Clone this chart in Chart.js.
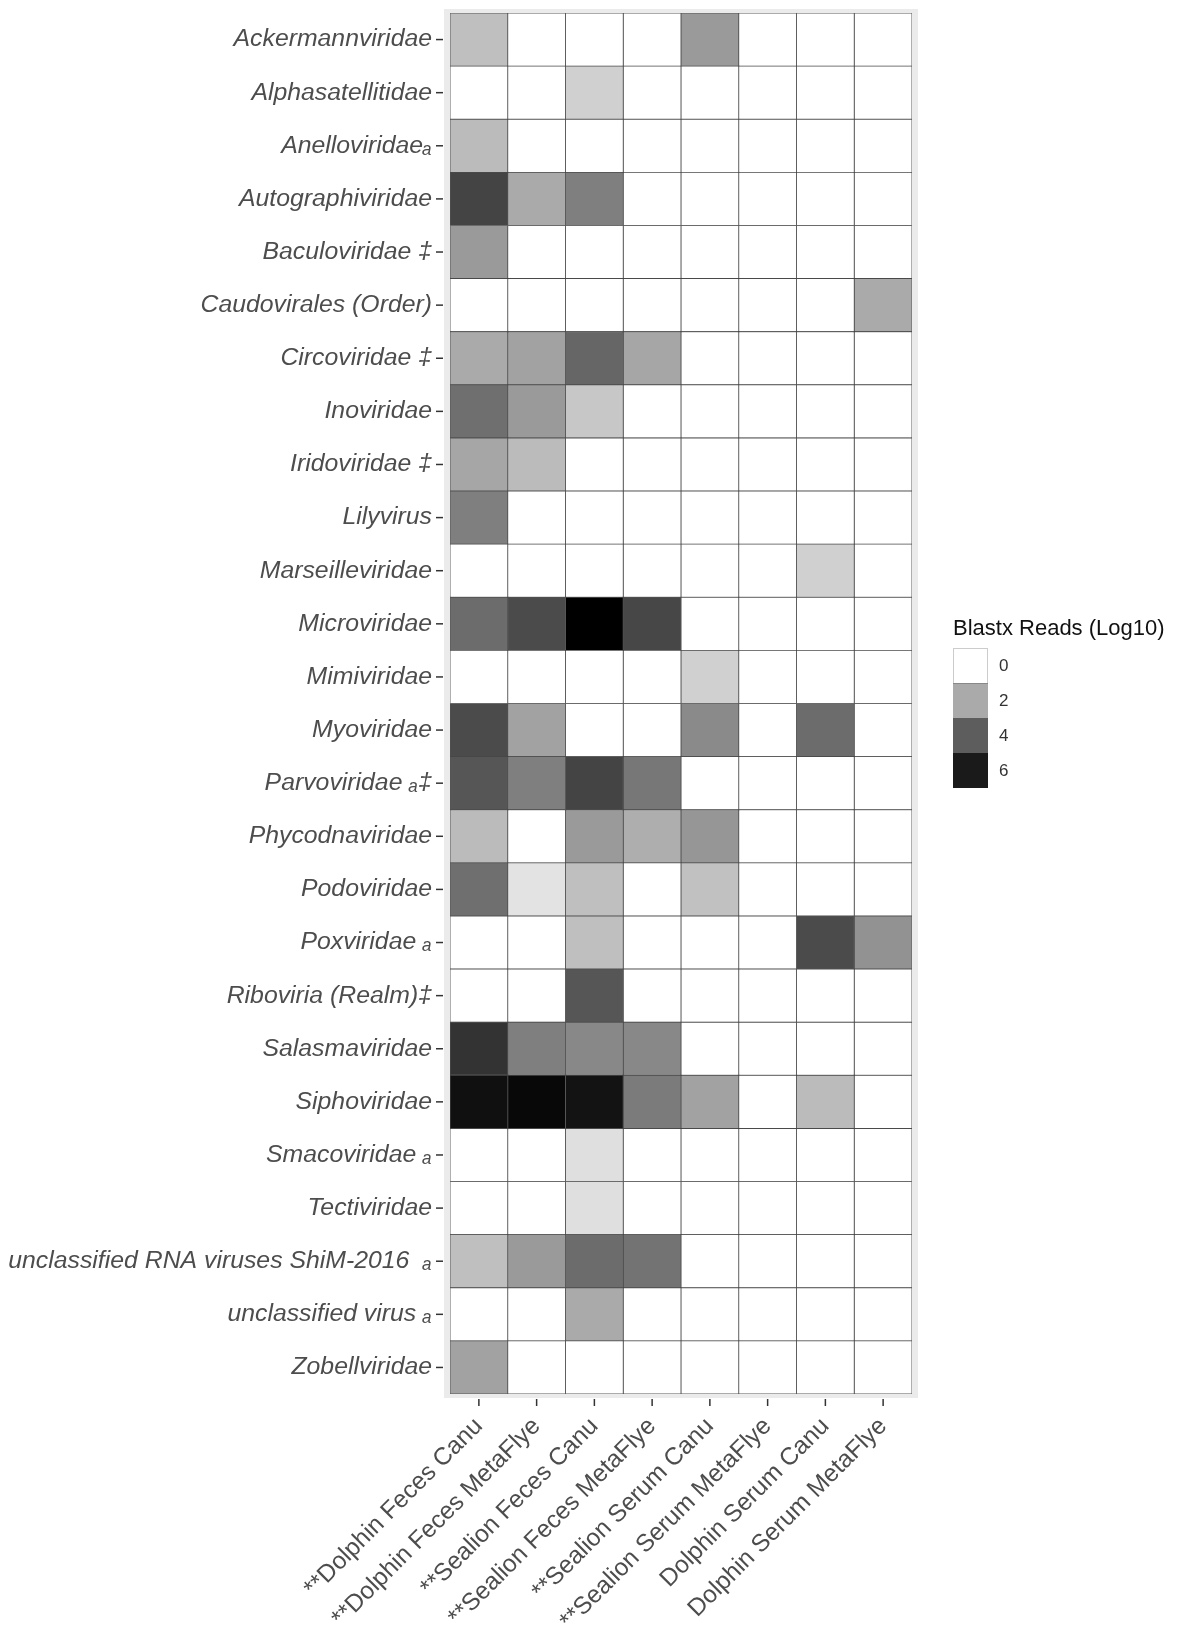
<!DOCTYPE html>
<html>
<head>
<meta charset="utf-8">
<script src="https://cdn.jsdelivr.net/npm/chart.js@4.4.1/dist/chart.umd.min.js"></script>
<style>
  body { margin: 0; background: #fff; }
  canvas { display: block; }
</style>
</head>
<body>
<canvas id="miHeatmap" width="1181" height="1628"></canvas>
<script>
// row labels (virus families), top to bottom
const families = [
    'Ackermannviridae', 'Alphasatellitidae', 'Anelloviridae\u2090', 'Autographiviridae',
    'Baculoviridae \u2021', 'Caudovirales (Order)', 'Circoviridae \u2021', 'Inoviridae',
    'Iridoviridae \u2021', 'Lilyvirus', 'Marseilleviridae', 'Microviridae',
    'Mimiviridae', 'Myoviridae', 'Parvoviridae \u2090\u2021', 'Phycodnaviridae',
    'Podoviridae', 'Poxviridae \u2090', 'Riboviria (Realm)\u2021', 'Salasmaviridae',
    'Siphoviridae', 'Smacoviridae \u2090', 'Tectiviridae', 'unclassified RNA viruses ShiM-2016  \u2090',
    'unclassified virus \u2090', 'Zobellviridae'
];

// column labels (samples / assemblers)
const samples = [
    '**Dolphin Feces Canu', '**Dolphin Feces MetaFlye', '**Sealion Feces Canu', '**Sealion Feces MetaFlye',
    '**Sealion Serum Canu', '**Sealion Serum MetaFlye', 'Dolphin Serum Canu', 'Dolphin Serum MetaFlye'
];

// Blastx reads (log10), one array per sample, same order as families
const dolphinFecesCanu     = [1.5, 0, 1.6, 4.7, 2.4, 0, 2.0, 3.5, 2.1, 3.1, 0, 3.6, 0, 4.5, 4.2, 1.6, 3.5, 0, 0, 5.2, 6.3, 0, 0, 1.5, 0, 2.2];
const dolphinFecesMetaFlye = [0, 0, 0, 2.0, 0, 0, 2.2, 2.4, 1.6, 0, 0, 4.5, 0, 2.2, 3.1, 0, 0.65, 0, 0, 3.1, 6.45, 0, 0, 2.4, 0, 0];
const sealionFecesCanu     = [0, 1.1, 0, 3.1, 0, 0, 3.75, 1.3, 0, 0, 0, 6.6, 0, 0, 4.7, 2.4, 1.5, 1.5, 4.2, 2.85, 6.2, 0.73, 0.73, 3.6, 2.0, 0];
const sealionFecesMetaFlye = [0, 0, 0, 0, 0, 0, 2.1, 0, 0, 0, 0, 4.6, 0, 0, 3.3, 1.9, 0, 0, 0, 2.85, 3.2, 0, 0, 3.4, 0, 0];
const sealionSerumCanu     = [2.4, 0, 0, 0, 0, 0, 0, 0, 0, 0, 0, 0, 1.1, 2.8, 0, 2.5, 1.45, 0, 0, 0, 2.2, 0, 0, 0, 0, 0];
const sealionSerumMetaFlye = [0, 0, 0, 0, 0, 0, 0, 0, 0, 0, 0, 0, 0, 0, 0, 0, 0, 0, 0, 0, 0, 0, 0, 0, 0, 0];
const dolphinSerumCanu     = [0, 0, 0, 0, 0, 0, 0, 0, 0, 0, 1.1, 0, 0, 3.6, 0, 0, 0, 4.5, 0, 0, 1.6, 0, 0, 0, 0, 0];
const dolphinSerumMetaFlye = [0, 0, 0, 0, 0, 2.0, 0, 0, 0, 0, 0, 0, 0, 0, 0, 0, 0, 2.6, 0, 0, 0, 0, 0, 0, 0, 0];

const legendBreaks = [0, 2, 4, 6];
const scaleMax = 6.6;

const series = [dolphinFecesCanu, dolphinFecesMetaFlye, sealionFecesCanu, sealionFecesMetaFlye,
                sealionSerumCanu, sealionSerumMetaFlye, dolphinSerumCanu, dolphinSerumMetaFlye];

// white -> black, interpolated on Lab lightness like ggplot
function grayFor(v) {
    let L = 100 * (1 - Math.min(v, scaleMax) / scaleMax);
    let Y = L > 8 ? Math.pow((L + 16) / 116, 3) : L / 903.3;
    let s = Y <= 0.0031308 ? 12.92 * Y : 1.055 * Math.pow(Y, 1 / 2.4) - 0.055;
    let g = Math.round(Math.max(0, Math.min(1, s)) * 255);
    return 'rgb(' + g + ',' + g + ',' + g + ')';
}

const datasets = series.map((vals, i) => ({
    label: samples[i],
    data: vals.map(() => 1),
    backgroundColor: vals.map(grayFor),
    borderColor: 'rgba(60,60,60,0.85)',
    borderWidth: 0.8,
    borderSkipped: false,
    barPercentage: 1,
    categoryPercentage: 1
}));

const heatPlugin = {
    id: 'heatPlugin',
    beforeDraw(chart) {
        const ctx = chart.ctx;
        const a = chart.chartArea;
        ctx.save();
        ctx.fillStyle = '#fff';
        ctx.fillRect(0, 0, chart.width, chart.height);
        ctx.fillStyle = '#ebebeb';
        ctx.fillRect(a.left - 6, a.top - 4, a.right - a.left + 12, a.bottom - a.top + 8);
        ctx.restore();
    },
    afterDraw(chart) {
        const ctx = chart.ctx;
        const a = chart.chartArea;
        const ys = chart.scales.y;
        const xs = chart.scales.x;
        ctx.save();
        ctx.strokeStyle = '#333';
        ctx.lineWidth = 1.5;
        families.forEach((f, i) => {
            let py = ys.getPixelForValue(i);
            ctx.beginPath();
            ctx.moveTo(a.left - 14, py);
            ctx.lineTo(a.left - 7, py);
            ctx.stroke();
        });
        samples.forEach((s, i) => {
            let px = xs.getPixelForValue(i + 0.5);
            ctx.beginPath();
            ctx.moveTo(px, a.bottom + 5);
            ctx.lineTo(px, a.bottom + 12);
            ctx.stroke();
        });

        // legend
        const lx = a.right + 41, ly = 648, kw = 35, kh = 35;
        ctx.fillStyle = '#111';
        ctx.font = '22px "Liberation Sans", Arial, sans-serif';
        ctx.textAlign = 'left';
        ctx.textBaseline = 'alphabetic';
        ctx.fillText('Blastx Reads (Log10)', lx, 635);
        ctx.font = '17px "Liberation Sans", Arial, sans-serif';
        ctx.textBaseline = 'middle';
        legendBreaks.forEach((b, i) => {
            ctx.fillStyle = grayFor(b);
            ctx.fillRect(lx, ly + i * kh, kw, kh);
            ctx.fillStyle = '#333';
            ctx.fillText(String(b), lx + kw + 11, ly + i * kh + kh / 2 + 1);
        });
        ctx.strokeStyle = 'rgba(0,0,0,0.2)';
        ctx.lineWidth = 1;
        ctx.strokeRect(lx + 0.5, ly + 0.5, kw - 1, kh);
        ctx.restore();
    }
};

const grafico = new Chart(document.getElementById('miHeatmap'), {
    type: 'bar',
    data: { labels: families, datasets: datasets },
    options: {
        indexAxis: 'y',
        responsive: false,
        animation: false,
        devicePixelRatio: 1,
        layout: { padding: { top: 13, right: 269, left: 0, bottom: 0 } },
        plugins: { legend: { display: false }, tooltip: { enabled: false } },
        scales: {
            x: {
                type: 'linear',
                stacked: true,
                min: 0,
                max: 8,
                border: { display: false },
                grid: { display: false, drawTicks: false },
                afterBuildTicks: (scale) => { scale.ticks = samples.map((s, i) => ({ value: i + 0.5 })); },
                afterFit: (scale) => { scale.height = 234; scale.paddingLeft = 0; scale.paddingRight = 0; },
                ticks: {
                    autoSkip: false,
                    minRotation: 45,
                    maxRotation: 45,
                    padding: 18,
                    color: '#4d4d4d',
                    font: { family: '"Liberation Sans", Arial, sans-serif', size: 24.5 },
                    callback: (v, i) => samples[i]
                }
            },
            y: {
                stacked: true,
                border: { display: false },
                grid: { display: false, drawTicks: false },
                afterFit: (scale) => { scale.width = 450; scale.paddingTop = 0; scale.paddingBottom = 0; },
                ticks: {
                    autoSkip: false,
                    padding: 18,
                    color: '#4d4d4d',
                    font: { family: '"Liberation Sans", Arial, sans-serif', size: 24.8, style: 'italic' }
                }
            }
        }
    },
    plugins: [heatPlugin]
});
</script>
</body>
</html>
